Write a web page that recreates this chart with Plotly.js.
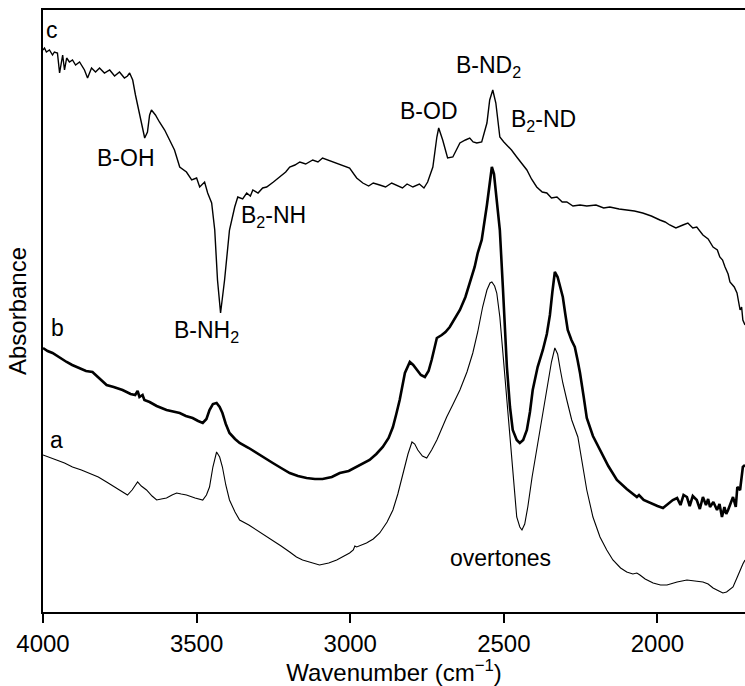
<!DOCTYPE html>
<html>
<head>
<meta charset="utf-8">
<script src="https://cdn.plot.ly/plotly-3.0.1.min.js"></script>
<style>html,body{margin:0;padding:0;background:#fff;}</style>
</head>
<body>
<div id="chart" style="width:745px;height:686px;"></div>
<script>
// Spectrum c (top)
const wn_c = [4000,3995,3989,3979,3969,3963,3953,3946,3936,3930,3923,3914,3904,3894,3881,3865,3855,3842,3829,3816,3800,3783,3767,3751,3735,3725,3718,3708,3699,3686,3676,3669,3660,3653,3647,3634,3621,3604,3588,3572,3555,3539,3533,3516,3500,3490,3474,3464,3451,3441,3432,3422,3409,3393,3376,3366,3350,3337,3325,3317,3300,3285,3272,3250,3230,3210,3197,3180,3164,3145,3122,3105,3090,3065,3044,3020,3002,2979,2959,2940,2925,2904,2885,2865,2849,2830,2815,2796,2775,2760,2748,2731,2718,2712,2699,2683,2666,2643,2625,2611,2600,2588,2572,2555,2546,2536,2526,2513,2500,2490,2475,2458,2440,2425,2410,2393,2375,2360,2345,2327,2310,2295,2275,2252,2230,2200,2175,2155,2125,2100,2075,2048,2020,1992,1975,1960,1940,1917,1901,1885,1872,1852,1835,1819,1805,1797,1788,1780,1770,1764,1750,1741,1731,1726,1722,1715];
const abs_c = [5.62,5.64,5.60,5.62,5.57,5.60,5.59,5.39,5.57,5.42,5.54,5.50,5.52,5.47,5.50,5.42,5.34,5.44,5.40,5.44,5.39,5.42,5.36,5.40,5.34,5.36,5.39,5.32,5.17,4.97,4.82,4.74,4.80,4.97,5.02,4.97,4.90,4.82,4.72,4.62,4.45,4.42,4.40,4.32,4.34,4.25,4.30,4.19,4.09,3.82,3.32,2.99,3.32,3.82,4.05,4.15,4.13,4.19,4.16,4.22,4.19,4.24,4.25,4.30,4.35,4.40,4.45,4.47,4.50,4.48,4.52,4.50,4.54,4.51,4.49,4.46,4.44,4.34,4.29,4.26,4.29,4.27,4.25,4.29,4.27,4.24,4.28,4.25,4.28,4.24,4.30,4.45,4.75,4.84,4.72,4.54,4.55,4.69,4.72,4.74,4.70,4.69,4.70,4.89,5.12,5.22,5.09,4.75,4.70,4.67,4.62,4.55,4.48,4.42,4.33,4.25,4.20,4.19,4.14,4.15,4.10,4.10,4.06,4.07,4.06,4.07,4.04,4.05,4.03,4.02,4.01,3.99,3.96,3.92,3.90,3.87,3.84,3.87,3.89,3.84,3.85,3.77,3.73,3.65,3.62,3.55,3.52,3.45,3.38,3.30,3.25,3.19,3.02,3.05,2.92,2.87];

// Spectrum b (middle, thick)
const wn_b = [4000,3985,3969,3950,3923,3905,3881,3860,3839,3815,3793,3770,3741,3715,3700,3692,3686,3676,3670,3653,3630,3598,3575,3555,3535,3513,3495,3480,3468,3458,3447,3435,3425,3416,3405,3393,3375,3360,3330,3305,3280,3252,3225,3197,3170,3142,3115,3090,3060,3034,3005,2979,2960,2937,2915,2894,2875,2861,2850,2839,2822,2806,2795,2783,2770,2757,2745,2735,2725,2718,2702,2690,2676,2660,2643,2625,2611,2595,2585,2572,2555,2545,2539,2532,2526,2513,2503,2490,2480,2471,2458,2448,2437,2425,2415,2406,2390,2373,2360,2350,2342,2334,2325,2316,2308,2300,2292,2280,2269,2260,2252,2240,2230,2210,2187,2160,2132,2100,2067,2060,2045,2024,2000,1982,1965,1950,1936,1925,1915,1904,1895,1885,1872,1862,1852,1842,1835,1829,1818,1806,1798,1790,1782,1776,1770,1760,1754,1745,1740,1731,1726,1722,1715];
const abs_b = [2.64,2.61,2.59,2.55,2.50,2.47,2.44,2.41,2.40,2.33,2.27,2.25,2.22,2.18,2.17,2.21,2.15,2.17,2.12,2.10,2.06,2.02,2.00,1.99,1.96,1.94,1.91,1.89,1.93,2.02,2.08,2.09,2.05,1.99,1.88,1.79,1.73,1.69,1.64,1.59,1.54,1.49,1.44,1.39,1.36,1.34,1.33,1.33,1.35,1.39,1.41,1.45,1.48,1.52,1.58,1.65,1.74,1.85,1.98,2.12,2.39,2.50,2.47,2.42,2.37,2.35,2.41,2.52,2.66,2.74,2.77,2.80,2.85,2.93,3.02,3.15,3.29,3.45,3.59,3.72,4.07,4.33,4.45,4.38,4.22,3.82,3.24,2.45,2.05,1.82,1.72,1.69,1.72,1.82,2.00,2.22,2.45,2.62,2.78,2.97,3.20,3.40,3.35,3.25,3.15,2.98,2.82,2.72,2.65,2.52,2.39,2.15,1.94,1.76,1.62,1.46,1.32,1.23,1.15,1.17,1.12,1.09,1.06,1.04,1.08,1.12,1.14,1.07,1.17,1.15,1.06,1.16,1.12,1.03,1.15,1.07,1.13,1.05,1.10,1.02,1.08,0.95,1.05,0.98,1.02,1.10,1.15,1.05,1.25,1.22,1.38,1.45,1.47];

// Spectrum a (bottom, thin)
const wn_a = [4000,3980,3956,3930,3904,3875,3849,3820,3793,3765,3741,3725,3710,3700,3692,3680,3663,3645,3630,3615,3598,3580,3565,3550,3533,3505,3480,3468,3458,3447,3435,3425,3416,3405,3393,3375,3360,3330,3305,3280,3252,3225,3197,3175,3155,3125,3100,3070,3044,3020,3002,2990,2985,2979,2960,2947,2925,2904,2880,2861,2845,2829,2812,2799,2790,2780,2765,2751,2735,2718,2700,2686,2665,2643,2620,2601,2585,2569,2555,2545,2539,2530,2523,2513,2503,2490,2480,2468,2458,2448,2441,2432,2422,2408,2393,2375,2360,2345,2334,2325,2316,2308,2295,2279,2259,2245,2230,2210,2187,2165,2145,2120,2100,2080,2067,2057,2040,2014,1990,1969,1950,1936,1904,1880,1852,1835,1819,1800,1787,1775,1765,1754,1740,1731,1722,1715];
const abs_a = [1.57,1.55,1.52,1.49,1.45,1.42,1.39,1.35,1.30,1.25,1.20,1.17,1.22,1.27,1.30,1.26,1.22,1.16,1.12,1.13,1.14,1.17,1.19,1.18,1.17,1.14,1.12,1.17,1.25,1.45,1.60,1.55,1.45,1.27,1.12,1.00,0.92,0.87,0.82,0.77,0.72,0.66,0.60,0.55,0.52,0.49,0.47,0.49,0.52,0.56,0.59,0.62,0.66,0.65,0.67,0.69,0.73,0.79,0.90,1.02,1.18,1.39,1.58,1.70,1.68,1.62,1.56,1.54,1.62,1.72,1.85,1.95,2.08,2.22,2.40,2.59,2.80,3.05,3.22,3.29,3.30,3.26,3.19,2.95,2.59,2.10,1.72,1.25,0.95,0.85,0.82,0.88,1.05,1.35,1.62,1.95,2.22,2.50,2.64,2.58,2.42,2.29,2.12,1.92,1.75,1.50,1.22,0.95,0.75,0.62,0.52,0.44,0.40,0.38,0.39,0.37,0.33,0.29,0.27,0.27,0.29,0.30,0.32,0.31,0.30,0.28,0.24,0.21,0.19,0.20,0.22,0.25,0.35,0.42,0.48,0.52];

const xTicks = [4000,3500,3000,2500,2000];
const xTickText = ['4000','3500','3000','2500','2000'];

const traces = [
  {x: wn_c, y: abs_c, mode:'lines', line:{color:'black', width:1.4}, name:'c'},
  {x: wn_b, y: abs_b, mode:'lines', line:{color:'black', width:2.6}, name:'b'},
  {x: wn_a, y: abs_a, mode:'lines', line:{color:'black', width:1.1}, name:'a'}
];

function lab(text, x, y){
  return {text:text, x:x, y:y, xref:'x', yref:'y', showarrow:false, xanchor:'center', yanchor:'middle',
          font:{family:'"Liberation Sans", Arial, sans-serif', size:23, color:'black'}};
}

const annotations = [
  lab('c', 3972, 5.82),
  lab('b', 3954, 2.84),
  lab('a', 3956, 1.72),
  lab('B-OH', 3731, 4.54),
  lab('B<sub>2</sub>-NH', 3249, 3.96),
  lab('B-NH<sub>2</sub>', 3467, 2.81),
  lab('B-OD', 2744, 5.01),
  lab('B-ND<sub>2</sub>', 2549, 5.46),
  lab('B<sub>2</sub>-ND', 2370, 4.92),
  lab('overtones', 2510, 0.54)
];

const layout = {
  width:745, height:686,
  margin:{l:43, r:0, t:10, b:74},
  paper_bgcolor:'white', plot_bgcolor:'white',
  showlegend:false,
  font:{family:'"Liberation Sans", Arial, sans-serif', color:'black', size:23},
  xaxis:{
    range:[4000,1715], tickvals:xTicks, ticktext:xTickText,
    ticks:'outside', ticklen:9, tickwidth:1.5, tickcolor:'black',
    showline:true, linecolor:'black', linewidth:2, mirror:true,
    showgrid:false, zeroline:false, tickfont:{size:24},
    title:{text:'Wavenumber (cm<sup>−1</sup>)', font:{size:24}, standoff:2}
  },
  yaxis:{
    range:[0,6.02], showticklabels:false, ticks:'',
    showline:true, linecolor:'black', linewidth:2,
    showgrid:false, zeroline:false,
    title:{text:'Absorbance', font:{size:24}, standoff:8}
  },
  annotations:annotations
};

Plotly.newPlot('chart', traces, layout, {displayModeBar:false});
</script>
</body>
</html>
